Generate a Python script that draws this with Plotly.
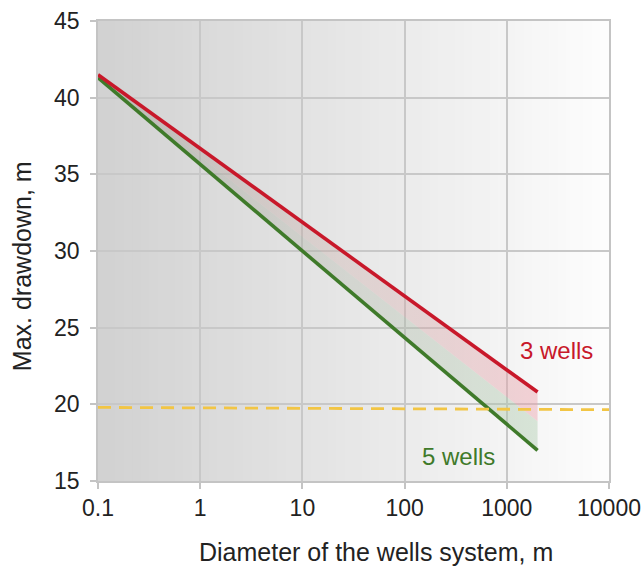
import plotly.graph_objects as go

# Data
diam = [0.1, 1, 10, 100, 1000, 2000]
wells3 = [41.5, 36.7, 31.9, 27.1, 22.3, 20.8]
wells5 = [41.3, 35.65, 30.0, 24.35, 18.7, 17.0]
limit_x = [0.1, 10000]
limit_y = [19.8, 19.65]
x_ticks = [0.1, 1, 10, 100, 1000, 10000]
x_ticktext = ["0.1", "1", "10", "100", "1000", "10000"]

RED = "#c8182a"
GREEN = "#3f7a2a"
FONT = "Liberation Sans, Arial, sans-serif"
mid = [(a + b) / 2 for a, b in zip(wells3, wells5)]

fig = go.Figure()

fig.add_trace(go.Scatter(x=diam, y=wells5, mode="lines",
                         line=dict(color=GREEN, width=0), showlegend=False, hoverinfo="skip"))
fig.add_trace(go.Scatter(x=diam, y=mid, mode="lines", line=dict(width=0),
                         fill="tonexty",
                         fillgradient=dict(type="horizontal",
                                           colorscale=[[0, "rgba(150,145,135,0.4)"],
                                                       [0.55, "rgba(170,175,160,0.32)"],
                                                       [1, "rgba(175,205,175,0.45)"]]),
                         showlegend=False, hoverinfo="skip"))
fig.add_trace(go.Scatter(x=diam, y=wells3, mode="lines", line=dict(width=0),
                         fill="tonexty",
                         fillgradient=dict(type="horizontal",
                                           colorscale=[[0, "rgba(150,145,135,0.4)"],
                                                       [0.55, "rgba(200,168,162,0.32)"],
                                                       [1, "rgba(235,160,170,0.45)"]]),
                         showlegend=False, hoverinfo="skip"))
fig.add_trace(go.Scatter(x=diam, y=wells5, mode="lines",
                         line=dict(color=GREEN, width=3.6), showlegend=False))
fig.add_trace(go.Scatter(x=diam, y=wells3, mode="lines",
                         line=dict(color=RED, width=3.6), showlegend=False))
fig.add_trace(go.Scatter(x=limit_x, y=limit_y, mode="lines",
                         line=dict(color="#f2c544", width=2.8, dash="13px,8px"),
                         showlegend=False))

# background gradient
n = 60
shapes = []
for i in range(n):
    t = i / (n - 1)
    g = int(210 + (253 - 210) * t)
    shapes.append(dict(type="rect", xref="paper", yref="paper",
                       x0=i / n, x1=(i + 1) / n + 0.002, y0=0, y1=1,
                       fillcolor=f"rgb({g},{g},{g})", line=dict(width=0),
                       layer="below"))

fig.update_layout(
    width=644, height=569,
    margin=dict(l=98, r=35, t=21, b=88),
    paper_bgcolor="white", plot_bgcolor="white",
    shapes=shapes,
    font=dict(family=FONT, size=23, color="#222"),
    annotations=[
        dict(x=3.49, y=23.5, xref="x", yref="y", text="3 wells", showarrow=False,
             font=dict(family=FONT, size=24, color=RED)),
        dict(x=2.53, y=16.6, xref="x", yref="y", text="5 wells", showarrow=False,
             font=dict(family=FONT, size=24, color=GREEN)),
        dict(x=0.544, y=0, xref="paper", yref="paper", yshift=-71,
             xanchor="center", yanchor="middle", showarrow=False,
             text="Diameter of the wells system, m",
             font=dict(family=FONT, size=25, color="#222")),
        dict(x=0, y=0.467, xref="paper", yref="paper", xshift=-76,
             xanchor="center", yanchor="middle", showarrow=False, textangle=-90,
             text="Max. drawdown, m",
             font=dict(family=FONT, size=25, color="#222")),
    ],
)
axis_common = dict(showgrid=True, gridcolor="#c8c8c8", gridwidth=1.5,
                   showline=True, linecolor="#c4c4c4", linewidth=1.5,
                   ticks="outside", ticklen=6, tickcolor="#c4c4c4", tickwidth=1.5,
                   tickfont=dict(size=23, color="#222"),
                   mirror=True, zeroline=False, automargin=False)
fig.update_xaxes(type="log", range=[-1, 4], tickvals=x_ticks, ticktext=x_ticktext,
                 **axis_common)
fig.update_yaxes(range=[15, 45], dtick=5, ticklabelstandoff=6, **axis_common)

fig.write_html("out.html", post_script="document.body.style.margin='0';",
               config={"displayModeBar": False})
